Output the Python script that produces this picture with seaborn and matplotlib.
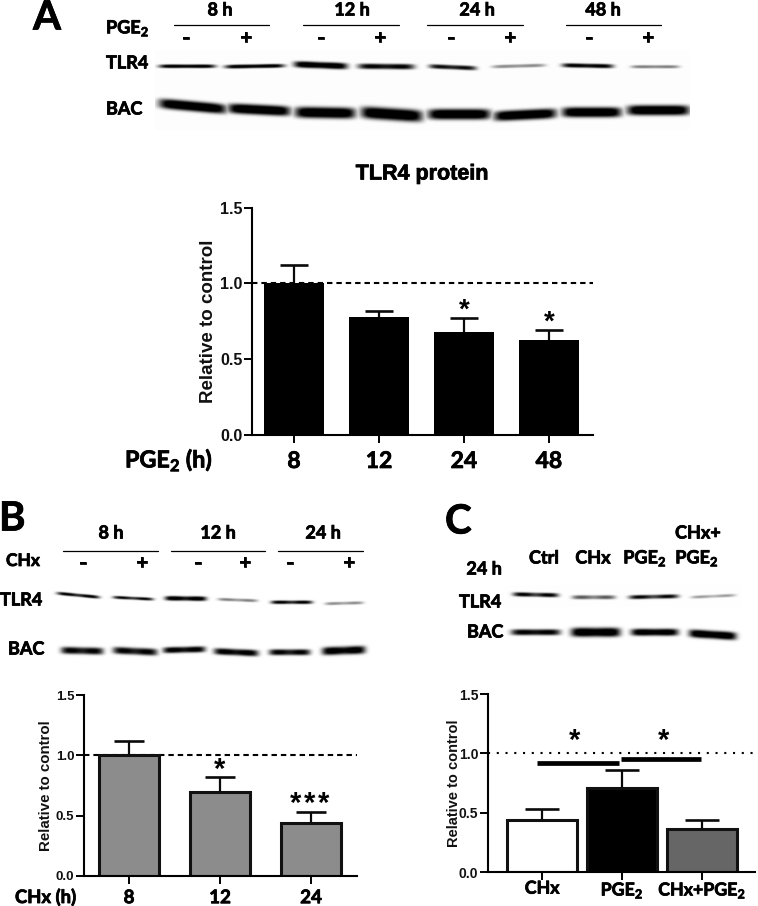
import numpy as np
import pandas as pd
import matplotlib
matplotlib.use("Agg")
import matplotlib.pyplot as plt
import matplotlib.patheffects as pe
import seaborn as sns

# ---------- data ----------
a_times = ["8", "12", "24", "48"]
a_means = [1.00, 0.78, 0.68, 0.63]
a_tops = [1.12, 0.82, 0.77, 0.69]

b_times = ["8", "12", "24"]
b_means = [1.00, 0.70, 0.44]
b_tops = [1.12, 0.82, 0.53]

c_groups = ["CHx", r"PGE$_{\mathbf{2}}$", r"CHx+PGE$_{\mathbf{2}}$"]
c_means = [0.44, 0.71, 0.36]
c_tops = [0.53, 0.86, 0.44]

# band darkness of the western blots
a_tlr4 = [0.95, 0.95, 1.0, 0.85, 0.8, 0.38, 0.88, 0.42]
a_bac = [1, 1, 1, 1, 1, 1, 1, 1]
b_tlr4 = [0.9, 0.85, 1.0, 0.42, 0.9, 0.38]
b_bac = [0.85, 0.85, 0.9, 0.9, 0.85, 0.95]
c_tlr4 = [0.88, 0.55, 0.85, 0.33]
c_bac = [0.85, 1.0, 0.95, 1.0]

# ---------- style ----------
sns.set_theme(style="ticks")
plt.rcParams["font.family"] = ["Liberation Sans", "DejaVu Sans"]
plt.rcParams["mathtext.fontset"] = "custom"
plt.rcParams["mathtext.bf"] = "Lato:bold"
plt.rcParams["mathtext.rm"] = "Lato:bold"

W, H = 758, 906
fig = plt.figure(figsize=(W / 100, H / 100), dpi=100, facecolor="white")
PT = 0.72
CAL = "Lato"
ARI = "Liberation Sans"
STROKE = [pe.withStroke(linewidth=0.55, foreground="black")]


def axes_px(x0, x1, ytop, ybot):
    return fig.add_axes([x0 / W, 1 - ybot / H, (x1 - x0) / W, (ybot - ytop) / H])


def bar_panel(box, xlim, cats, means, tops, colors, edge, elw, width, cap, tick_fs, lab_fs,
              xt_fs, xt_pad, ylab_x, ref_style):
    ax = axes_px(*box)
    df = pd.DataFrame({"group": cats, "value": means})
    ax.axhline(1.0, color="black", lw=1.5, zorder=0.5, **ref_style)
    sns.barplot(data=df, x="group", y="value", hue="group", palette=colors, legend=False,
                width=width, dodge=False, edgecolor=edge, linewidth=elw, ax=ax,
                saturation=1, zorder=2)
    lo = np.zeros(len(means))
    hi = np.array(tops) - np.array(means)
    eb = ax.errorbar(range(len(cats)), means, yerr=[lo, hi], fmt="none", ecolor="#0a0a0a",
                     elinewidth=1.6, capsize=cap * PT / 2, capthick=1.9, zorder=3)
    eb[1][0].set_visible(False)  # upper whisker only
    ax.set_xlim(*xlim)
    ax.set_ylim(0, 1.5)
    ax.set_yticks([0, 0.5, 1.0, 1.5], ["0.0", "0.5", "1.0", "1.5"])
    ax.set_xlabel("")
    ax.set_ylabel("Relative to control", fontsize=lab_fs, fontweight="bold", family=ARI,
                  color="#111111")
    ax.yaxis.set_label_coords((ylab_x - box[0]) / (box[1] - box[0]), 0.5,
                              transform=ax.transAxes)
    ax.tick_params(axis="both", length=5.5, width=1.4, color="black")
    ax.tick_params(axis="y", labelsize=tick_fs, pad=1.5)
    ax.tick_params(axis="x", labelsize=xt_fs, pad=xt_pad)
    for t in ax.get_yticklabels():
        t.set_fontweight("bold")
        t.set_family(ARI)
        t.set_color("#111111")
    for t in ax.get_xticklabels():
        t.set_fontweight("bold")
        t.set_family(CAL)
        t.set_color("black")
        t.set_path_effects(STROKE)
    sns.despine(ax=ax)
    for s in ("left", "bottom"):
        ax.spines[s].set_linewidth(1.5)
        ax.spines[s].set_color("black")
    ax.patch.set_alpha(0)
    return ax


dashed = dict(linestyle=(0, (2.6, 1.9)))
dotted = dict(linestyle=(0, (1.0, 3.2)))

ax_a = bar_panel((252, 593, 207.7, 435), (-0.494, 3.52), a_times, a_means, a_tops,
                 ["black"] * 4, "black", 0, 0.70, 28, 11.5, 13.5, 16.5, 6, 217, dashed)
ax_b = bar_panel((84, 357, 695, 876), (-0.495, 2.505), b_times, b_means, b_tops,
                 ["#8c8c8c"] * 3, "#111111", 2.2, 0.66, 30, 9.5, 10.8, 13.5, 4, 53, dashed)
ax_c = bar_panel((488, 755, 694, 872), (-0.675, 2.66), c_groups, c_means, c_tops,
                 ["white", "black", "#666666"], "#111111", 2.2, 0.87, 34, 10, 10.5, 12.8, 0, 461, dotted)

# significance bars in panel C, in data coordinates of the axis
ax_c.plot([-0.06, 0.96], [0.92, 0.92], color="black", lw=3.4, solid_capstyle="butt", zorder=4)
ax_c.plot([0.99, 1.99], [0.955, 0.955], color="black", lw=3.4, solid_capstyle="butt", zorder=4)

# ---------- overlay in pixel coordinates ----------
ov = fig.add_axes([0, 0, 1, 1], zorder=10)
ov.patch.set_alpha(0)
ov.axis("off")


def blot(layout, levels, region, dent=0.0, bg=0.0):
    x0, x1, y0, y1 = region
    xs = np.arange(x0, x1, 0.5)
    ys = np.arange(y0, y1, 0.5)
    X, Y = np.meshgrid(xs, ys)
    D = np.full(X.shape, bg)
    for (xa, xb, yl, yr, t), s in zip(layout, levels):
        xc, hw = (xa + xb) / 2, (xb - xa) / 2
        u = (X - xc) / hw
        yc = yl + (yr - yl) * (np.clip(u, -1, 1) + 1) / 2
        vert = np.exp(-np.abs((Y - yc) / (t / 2)) ** 3)
        horiz = np.exp(-np.abs(u) ** 7)
        dip = 1 - dent * np.exp(-(u / 0.35) ** 2)
        D = np.maximum(D, np.clip(1.25 * s * vert * horiz * dip, 0, 1))
    ov.imshow(1 - D, cmap="gray", vmin=0, vmax=1, extent=(x0, x1, y1, y0), aspect="auto",
              interpolation="bilinear", zorder=1)


blot([(159, 215, 66, 66, 3.6), (225, 284, 66.5, 65.5, 3.8), (294, 347, 64, 66, 6.4), (358, 414, 66, 66.5, 5.4),
      (429, 476, 66, 68, 4.4), (492, 545, 66.5, 65, 3.4), (562, 613, 65, 66, 4.2), (631, 679, 66.5, 66.5, 3.2)],
     a_tlr4, (155, 690, 50, 90), dent=0.12, bg=0.008)
blot([(159, 226, 103, 109, 10), (228, 290, 108, 111, 10), (295, 355, 112, 113, 11), (361, 422, 112, 116, 12),
      (428, 490, 114, 114, 10.5), (494, 556, 116, 113, 10), (562, 621, 112, 112, 10), (627, 689, 110, 110, 10)],
     a_bac, (155, 690, 90, 130), bg=0.008)
blot([(57, 99, 593, 597, 3.2), (113, 153, 597, 599, 3), (165, 206, 598, 598.5, 4.5), (218, 257, 599, 600.5, 3),
      (271, 312, 602, 602, 3.5), (325, 363, 603.5, 602.5, 3)],
     b_tlr4, (50, 370, 585, 612), dent=0.25)
blot([(61, 103, 650, 651, 7), (113, 157, 650, 652, 7), (163, 205, 650, 649, 6), (214, 258, 651, 653, 6.5),
      (269, 310, 652, 652, 6), (322, 365, 651, 649.5, 8)],
     b_bac, (50, 372, 638, 662), dent=0.15)
blot([(513, 558, 594, 595, 4.2), (572, 615, 597, 597, 4), (629, 678, 597, 596, 4), (691, 735, 597, 595, 3)],
     c_tlr4, (505, 742, 585, 607), dent=0.3, bg=0.006)
blot([(511, 560, 632, 632, 6), (571, 620, 632, 632, 9), (631, 678, 632, 632, 7), (689, 736, 633, 636, 8)],
     c_bac, (505, 742, 622, 645), dent=0.1)


def ctext(x, y, s, fs, ha="center", family=CAL, weight="bold", stroke=True):
    t = ov.text(x, y, s, fontsize=fs, ha=ha, va="center", family=family, fontweight=weight,
                color="black", zorder=5)
    if stroke:
        t.set_path_effects(STROKE)


PGE = r"PGE$_{\mathbf{2}}$"

# panel A blot labels
ctext(33, 18, "A", 29, ha="left")
for x, s in zip([220, 352, 477, 603], ["8 h", "12 h", "24 h", "48 h"]):
    ctext(x, 10, s, 13)
for a, b in [(174, 269), (303, 399), (427, 522.5), (565.5, 660.5)]:
    ov.plot([a, b], [25, 25], color="black", lw=0.9)
for x, s in zip([186, 246, 321, 380, 451, 510, 589, 648], "-+-+-+-+"):
    ctext(x, 38, s, 14)
ctext(106, 28, PGE, 13, ha="left")
ctext(106, 63, "TLR4", 13, ha="left")
ctext(106, 109, "BAC", 13, ha="left")
ctext(422, 174, "TLR4 protein", 15.5, family=ARI)
ctext(125, 460, r"PGE$_{\mathbf{2}}$ (h)", 16.8, ha="left")
ctext(464, 311, "*", 20, family=ARI, stroke=False)
ctext(549, 323, "*", 20, family=ARI, stroke=False)

# panel B blot labels
ctext(-1, 519, "B", 29, ha="left")
for x, s in zip([111, 218, 323], ["8 h", "12 h", "24 h"]):
    ctext(x, 533, s, 13)
for a, b in [(63, 158), (171, 265), (278, 363)]:
    ov.plot([a, b], [551, 551], color="black", lw=0.9)
for x, s in zip([83, 142, 198, 245, 290, 349], "-+-+-+"):
    ctext(x, 563, s, 14)
ctext(6, 561, "CHx", 12.5, ha="left")
ctext(0, 600, "TLR4", 13, ha="left")
ctext(8, 649, "BAC", 13, ha="left")
ctext(15, 897, "CHx (h)", 13.3, ha="left")
ctext(220, 770, "*", 21, family=ARI, stroke=False)
for x in (296, 310, 324):
    ctext(x, 804, "*", 21, family=ARI, stroke=False)

# panel C blot labels
ctext(445, 522, "C", 29, ha="left")
ctext(544, 558, "Ctrl", 13)
ctext(593, 558, "CHx", 13)
ctext(645, 558, PGE, 13)
ctext(698, 533, "CHx+", 13)
ctext(697, 558, PGE, 13)
ctext(484, 569, "24 h", 13)
ctext(459, 602, "TLR4", 13, ha="left")
ctext(467, 632, "BAC", 13, ha="left")
ctext(575, 741, "*", 21, family=ARI, stroke=False)
ctext(664, 741, "*", 21, family=ARI, stroke=False)

ov.set_xlim(0, W)
ov.set_ylim(H, 0)

fig.savefig("out.png", dpi=100)
